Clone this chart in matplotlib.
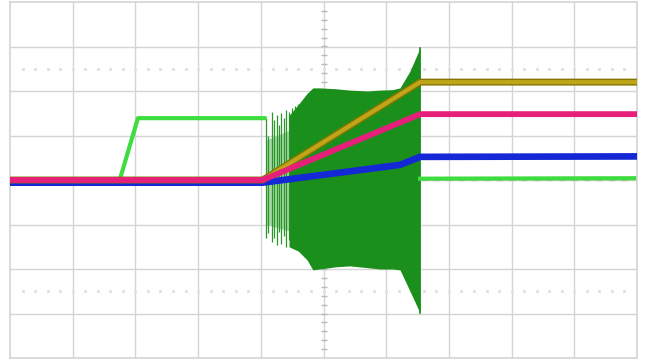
import numpy as np
import matplotlib.pyplot as plt


# -------------------------
# Trace data (screen divisions: 10 x 8, centre = 0)
# -------------------------

ramp_x = [0.0, 4.03, 6.54, 10.0]
yellow_y = [0.0, 0.0, 2.20, 2.20]
pink_y = [0.0, 0.0, 1.48, 1.48]

blue_x = [0.0, 4.03, 6.22, 6.54, 10.0]
blue_y = [-0.06, -0.06, 0.34, 0.52, 0.53]

green_x = [0.0, 1.75, 2.04, 4.06]
green_y = [0.0, 0.0, 1.39, 1.39]

green_after_x = [6.54, 10.0]
green_after_y = [0.03, 0.04]

# dense part of the oscillation burst (envelope)
burst_x = [4.45, 4.60, 4.74, 4.83, 4.94, 5.20, 5.42, 5.70, 5.90, 6.10, 6.22, 6.38, 6.54]
burst_top = [1.45, 1.70, 1.95, 2.07, 2.07, 2.05, 2.02, 2.00, 2.02, 2.03, 2.07, 2.45, 2.97]
burst_bot = [-1.50, -1.60, -1.80, -2.02, -2.00, -1.95, -1.93, -1.97, -2.00, -2.00, -2.02, -2.50, -2.99]

# individual spikes at the start of the burst
spike_x = [4.08, 4.12, 4.18, 4.21, 4.26, 4.29, 4.32, 4.37, 4.40, 4.45, 4.50, 4.55, 4.59]
spike_top = [1.39, 1.00, 1.53, 1.35, 1.46, 1.24, 1.51, 1.39, 1.57, 1.53, 1.62, 1.66, 1.71]
spike_bot = [-1.30, -1.20, -1.39, -1.30, -1.46, -1.17, -1.44, -1.26, -1.51, -1.35, -1.48, -1.53, -1.57]


# -------------------------
# Scope screen
# -------------------------

fig = plt.figure(figsize=(6.45, 3.6), dpi=100)
ax = fig.add_axes([10 / 645, 2 / 360, 627 / 645, 356 / 360])
ax.set_xlim(0, 10)
ax.set_ylim(-4, 4)
ax.set_xticks([])
ax.set_yticks([])

grid_col = "#d4d4d4"
for gx in range(1, 10):
    ax.axvline(gx, color=grid_col, lw=1.0, zorder=0)
for gy in range(-3, 4):
    ax.axhline(gy, color=grid_col, lw=1.0, zorder=0)
for s in ax.spines.values():
    s.set_color(grid_col)
    s.set_linewidth(1.2)

# minor ticks on the centre axes
minor = np.arange(0.2, 10, 0.2)
ax.plot(minor, np.zeros_like(minor), ls="none", marker="_", ms=4,
        color="#b8b8b8", zorder=0)
minor_y = np.arange(-3.8, 4, 0.2)
ax.plot(np.full_like(minor_y, 5.0), minor_y, ls="none", marker="_", ms=4,
        color="#b8b8b8", zorder=0)

# dotted cursor rows
dots = np.arange(0.2, 10, 0.2)
for cy in [2.5, -2.5]:
    ax.plot(dots, np.full_like(dots, cy), ls="none", marker="s", ms=1.2,
            color="#e2e2e2", zorder=0)


# -------------------------
# Traces
# -------------------------

ax.fill_between([4.08, 4.6], [-1.0, -1.2], [0.9, 1.2],
                color="#a8d8a8", lw=0, zorder=1)
ax.vlines(spike_x, spike_bot, spike_top, color="#2a962a", lw=0.9, zorder=1)
ax.fill_between(burst_x, burst_bot, burst_top, color="#1b8f1b", lw=0, zorder=1)
ax.plot([6.54, 6.54], [burst_bot[-1], burst_top[-1]], color="#1b8f1b", lw=1.2, zorder=1)

ax.plot(green_x, green_y, color="#3fdc3f", lw=3.0, zorder=2)
ax.plot(green_after_x, green_after_y, color="#3fdc3f", lw=3.0, zorder=2)

ax.plot(blue_x, blue_y, color="#1428d6", lw=4.8, zorder=3)

ax.plot(ramp_x, yellow_y, color="#857600", lw=5.0, zorder=4)
ax.plot(ramp_x, yellow_y, color="#bea51a", lw=3.0, zorder=4)

ax.plot(ramp_x, pink_y, color="#e6207a", lw=4.2, zorder=5)

plt.savefig("out.png", dpi=100)
plt.close()
